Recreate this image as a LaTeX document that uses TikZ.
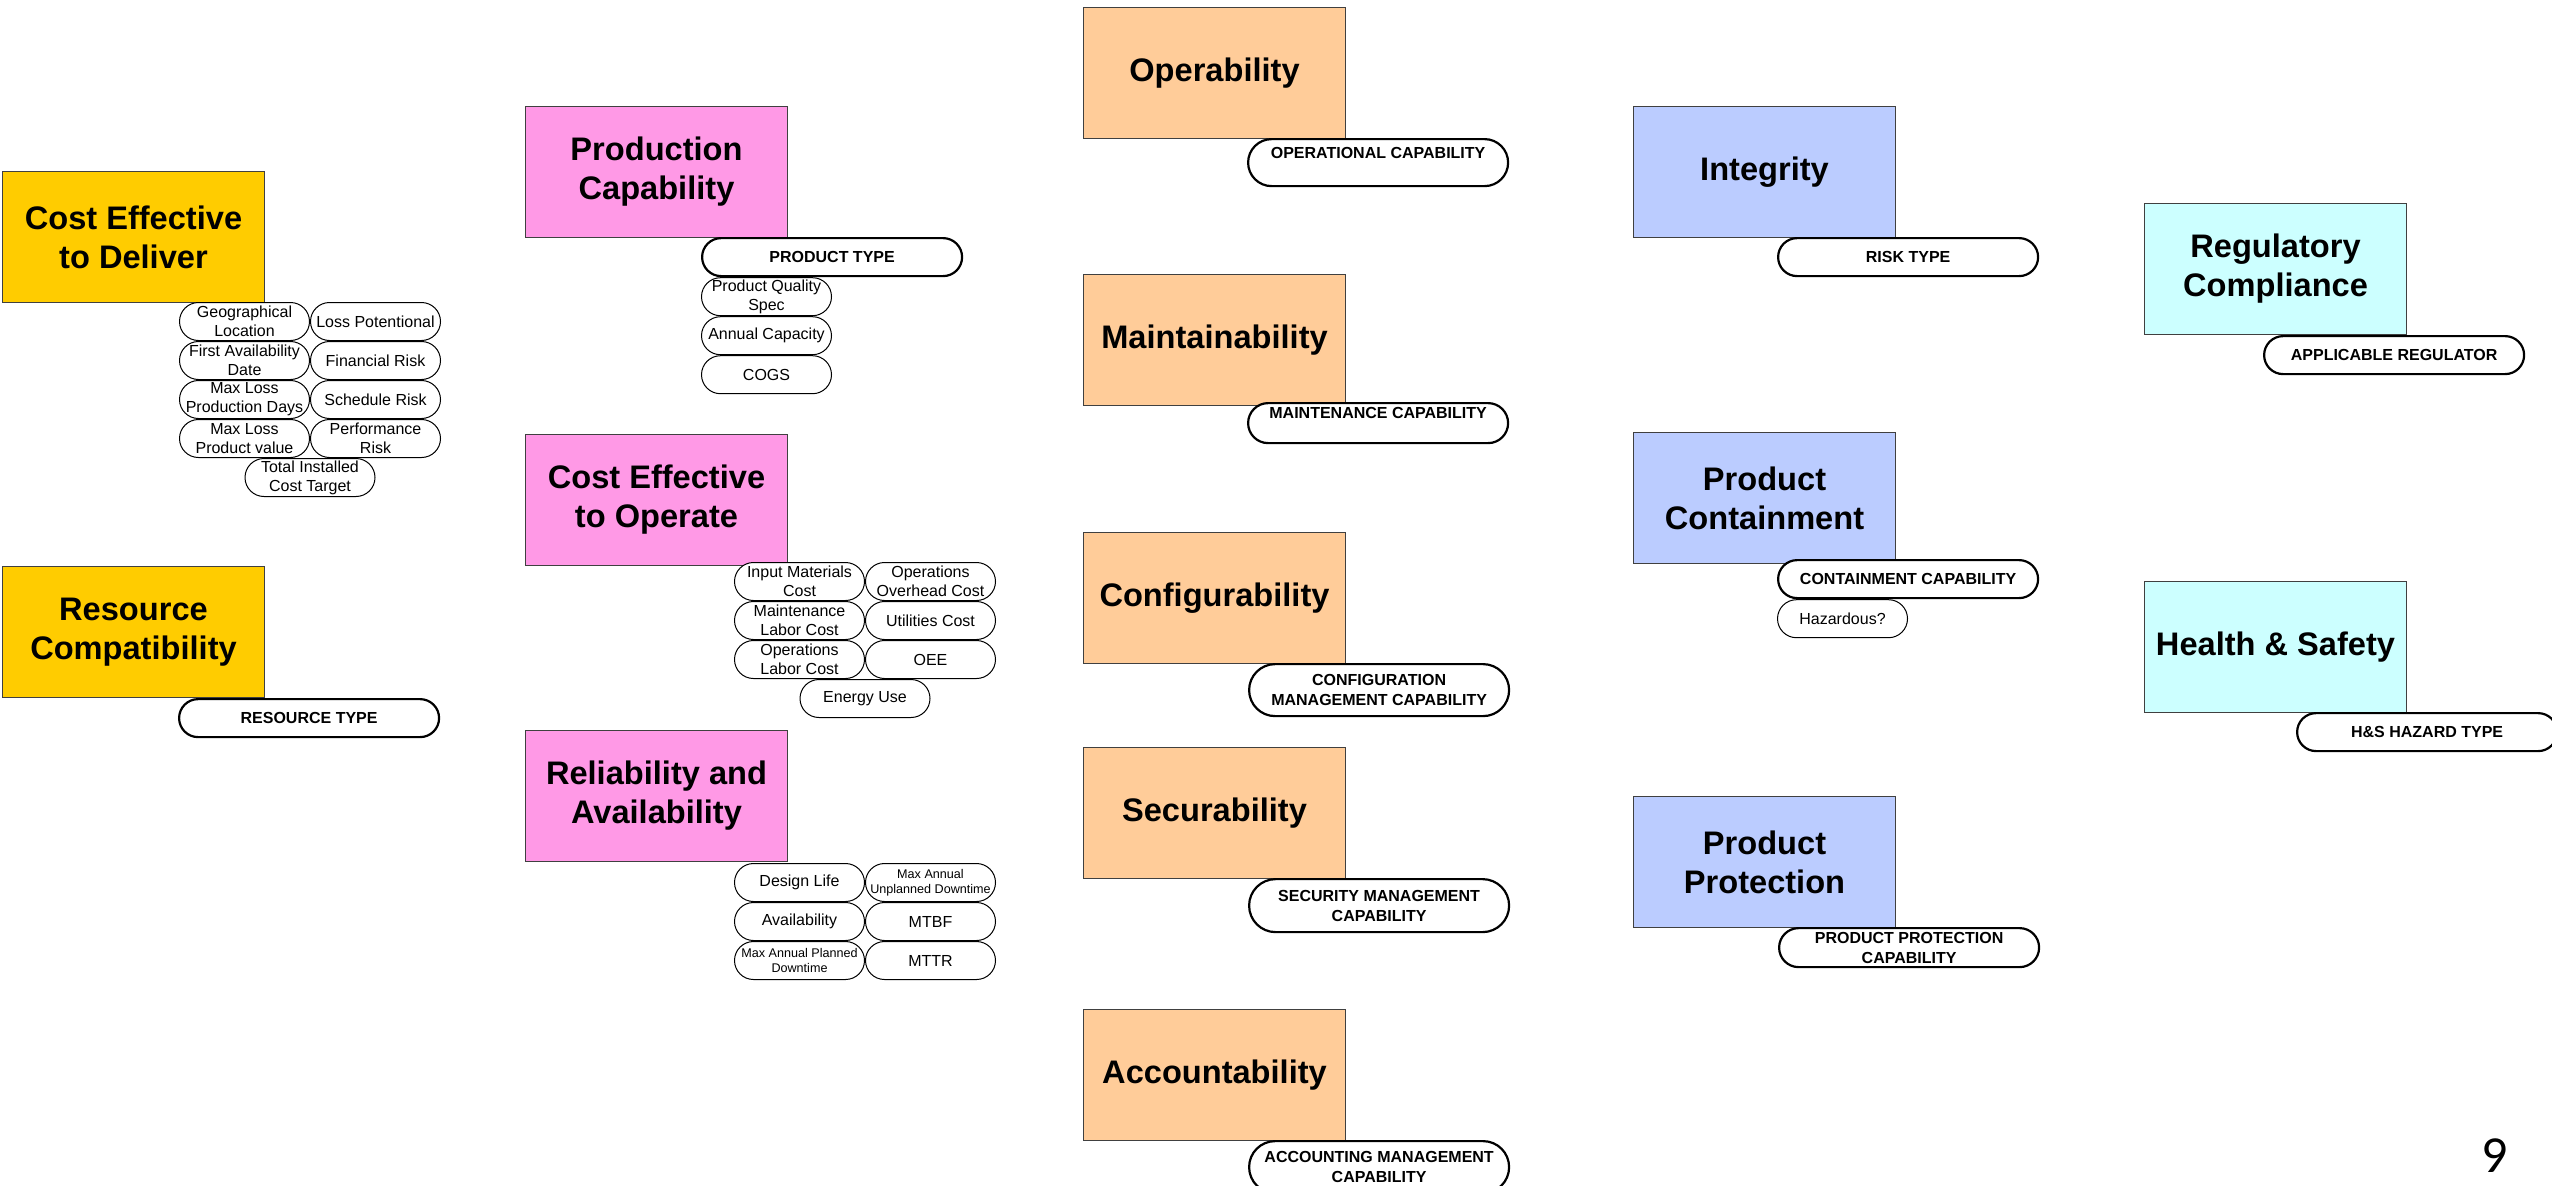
\documentclass[tikz,border=0pt]{standalone}
\usepackage{fontspec}
\setmainfont{Liberation Sans}
\newfontfamily\pagenofont{Carlito}
\usetikzlibrary{positioning}

\definecolor{gold}{HTML}{FFCC00}
\definecolor{orchid}{HTML}{FF99E6}
\definecolor{peach}{HTML}{FFCC99}
\definecolor{periwinkle}{HTML}{BBCCFF}
\definecolor{icecyan}{HTML}{CCFFFF}

\begin{document}
\begin{tikzpicture}[x=0.5pt,y=-0.5pt,
    factor/.style={draw=black!75,line width=0.5pt,minimum width=131pt,minimum height=65.5pt,
        inner sep=2pt,align=center,anchor=north west,font=\bfseries\fontsize{16.3}{19.5}\selectfont},
    capsule/.style={draw,fill=white,line width=1.1pt,minimum width=130pt,minimum height=#1,
        rounded corners=0.5*#1,inner xsep=0pt,inner ysep=0.5pt,align=center,
        font=\bfseries\fontsize{8}{10}\selectfont},
    capsule/.default=19pt,
    attr/.style={draw,fill=white,line width=0.5pt,minimum width=65pt,minimum height=19pt,
        rounded corners=9.5pt,inner xsep=0pt,inner ysep=0.2pt,align=center,
        font=\fontsize{8}{9.6}\selectfont},
    smallprint/.style={font=\fontsize{6.3}{7.5}\selectfont}
]

\useasboundingbox (0,0) rectangle (2552,1185);

% first column
\node[factor,fill=gold] (deliver) at (2,171) {Cost Effective\\to Deliver};
\node[factor,fill=gold] (resource) at (2,566) {Resource\\Compatibility};

\node[attr,below right=-0.5pt and -43pt of deliver.south east] (geo) {Geographical\\Location};
\node[attr,right=0pt of geo] (losspot) {Loss Potentional};
\node[attr,below=0pt of geo] (firstav) {First Availability\\Date};
\node[attr,right=0pt of firstav] (finrisk) {Financial Risk};
\node[attr,below=0pt of firstav] (mlprod) {Max Loss\\Production Days};
\node[attr,right=0pt of mlprod] (schedrisk) {Schedule Risk};
\node[attr,below=0pt of mlprod] (mlval) {Max Loss\\Product value};
\node[attr,right=0pt of mlval] (perfrisk) {Performance\\Risk};
\node[attr,below=0pt of mlval.south east] (tic) {Total Installed\\Cost Target};

\node[capsule,below right=0pt and -43.5pt of resource.south east] (restype) {RESOURCE TYPE};

% second column
\node[factor,fill=orchid] (production) at (525,106) {Production\\Capability};
\node[factor,fill=orchid] (operate) at (525,434) {Cost Effective\\to Operate};
\node[factor,fill=orchid] (reliab) at (525,730) {Reliability and\\Availability};

\node[capsule,below right=-0.5pt and -43.5pt of production.south east] (prodtype) {PRODUCT TYPE};
\node[attr,below right=0pt and 0pt of prodtype.south west] (pqs) {Product Quality\\Spec};
\node[attr,below=0pt of pqs] (anncap) {Annual Capacity};
\node[attr,below=0pt of anncap] (cogs) {COGS};

\node[attr,below right=-2pt and -27pt of operate.south east] (inmat) {Input Materials\\Cost};
\node[attr,right=0pt of inmat] (opsover) {Operations\\Overhead Cost};
\node[attr,below=0pt of inmat] (mainlab) {Maintenance\\Labor Cost};
\node[attr,right=0pt of mainlab] (utilcost) {Utilities Cost};
\node[attr,below=0pt of mainlab] (oplab) {Operations\\Labor Cost};
\node[attr,right=0pt of oplab] (oee) {OEE};
\node[attr,below=0pt of oplab.south east] (energy) {Energy Use};

\node[attr,below right=0.5pt and -27pt of reliab.south east] (designlife) {Design Life};
\node[attr,smallprint,right=0pt of designlife] (maxunpl) {Max Annual\\Unplanned Downtime};
\node[attr,below=0pt of designlife] (avail) {Availability};
\node[attr,right=0pt of avail] (mtbf) {MTBF};
\node[attr,smallprint,below=0pt of avail] (maxplan) {Max Annual Planned\\Downtime};
\node[attr,right=0pt of maxplan] (mttr) {MTTR};

% third column
\node[factor,fill=peach] (operab) at (1083,7) {Operability};
\node[factor,fill=peach] (maintain) at (1083,274) {Maintainability};
\node[factor,fill=peach] (config) at (1083,532) {Configurability};
\node[factor,fill=peach] (secure) at (1083,747) {Securability};
\node[factor,fill=peach] (account) at (1083,1009) {Accountability};

\node[capsule=23.5pt,below right=-0.5pt and -49.5pt of operab.south east] (opcap) {OPERATIONAL CAPABILITY\\~};
\node[capsule=20pt,below right=-2pt and -49.5pt of maintain.south east] (maincap) {MAINTENANCE CAPABILITY\\~};
\node[capsule=26pt,below right=-0.5pt and -49pt of config.south east] (confcap) {CONFIGURATION\\MANAGEMENT CAPABILITY};
\node[capsule=26.5pt,below right=-0.5pt and -49pt of secure.south east] (seccap) {SECURITY MANAGEMENT\\CAPABILITY};
\node[capsule=26pt,below right=-0.5pt and -49pt of account.south east] (acccap) {ACCOUNTING MANAGEMENT\\CAPABILITY};

% fourth column
\node[factor,fill=periwinkle] (integrity) at (1633,106) {Integrity};
\node[factor,fill=periwinkle] (contain) at (1633,432) {Product\\Containment};
\node[factor,fill=periwinkle] (protect) at (1633,796) {Product\\Protection};

\node[capsule,below right=-0.5pt and -59.5pt of integrity.south east] (risktype) {RISK TYPE};
\node[capsule,below right=-2.5pt and -59.5pt of contain.south east] (contcap) {CONTAINMENT CAPABILITY};
\node[attr,below right=0pt and 0pt of contcap.south west] (hazard) {Hazardous?};
\node[capsule=19.5pt,below right=-0.5pt and -59pt of protect.south east] (protcap) {PRODUCT PROTECTION\\CAPABILITY};

% fifth column
\node[factor,fill=icecyan] (regul) at (2144,203) {Regulatory\\Compliance};
\node[factor,fill=icecyan] (health) at (2144,581) {Health \& Safety};

\node[capsule,below right=0pt and -72pt of regul.south east] (regulator) {APPLICABLE REGULATOR};
\node[capsule,below right=-0.5pt and -55.5pt of health.south east] (hstype) {H\&S HAZARD TYPE};

\node[font=\pagenofont\fontsize{26}{26}\selectfont] (pageno) at (2495,1156) {9};

\end{tikzpicture}
\end{document}
